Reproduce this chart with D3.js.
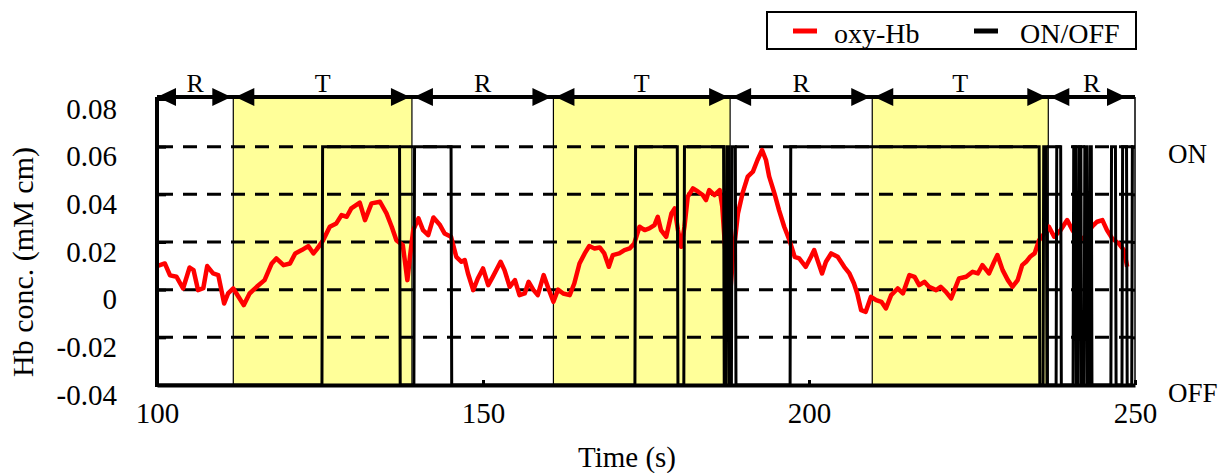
<!DOCTYPE html>
<html>
<head>
<meta charset="utf-8">
<script src="https://cdnjs.cloudflare.com/ajax/libs/d3/7.8.5/d3.min.js"></script>
<style>
    body { margin: 0; background: #fff; }
    text { font-family: "Liberation Serif", "Times New Roman", serif; fill: #000; }
</style>
</head>
<body>
<div class="chart"></div>
<script>
// oxy-Hb trace (time in s, conc. in mM cm)
var times = [100, 101.2, 102, 103, 104, 105, 105.6, 106.3, 107.1, 107.7, 108.6, 109.4, 110.3, 110.9, 111.7, 112.5, 113.3, 114.2, 115.3, 116.5,
    117.6, 118.3, 119.4, 120.4, 121.2, 122.2, 123.2, 124, 124.5, 125.5, 126.5, 127.5, 128.3, 129.1, 129.8, 131.1, 131.9, 132.9, 134.2, 135.2,
    136, 136.7, 137.7, 138.4, 138.8, 139.3, 140.1, 140.8, 141.6, 142.4, 143.4, 144.1, 145.1, 145.9, 146.7, 147.2, 147.7, 148.5, 149.2, 150,
    150.8, 151.5, 152.7, 153.3, 154.1, 154.9, 155.6, 156.4, 157, 157.7, 158.4, 159.3, 160.1, 160.8, 161.5, 162.3, 163.3, 164, 164.8, 165.6,
    166.3, 167.1, 167.9, 168.6, 169.3, 169.9, 170.9, 171.7, 172.5, 173.2, 174, 174.8, 175.5, 176.3, 176.8, 177.3, 178.1, 178.9, 179.4, 179.9,
    180.4, 180.9, 181.4, 182.2, 183, 183.7, 184.2, 184.7, 185.5, 186.3, 186.7, 187.3, 187.8, 188.3, 189.1, 189.8, 190.6, 191.4, 192.1, 192.8,
    193.4, 193.9, 194.7, 195.4, 196.2, 197, 197.8, 198.5, 199.5, 200.3, 200.8, 201.3, 202, 202.6, 203.4, 204.4, 205.4, 206.2, 206.9, 207.4,
    208, 208.7, 209.5, 210.3, 211.1, 211.8, 212.6, 213.6, 214.4, 215.4, 216.2, 216.9, 217.7, 218.4, 219.5, 220.2, 221, 221.8, 222.3, 223,
    224.1, 225.1, 225.9, 226.6, 227.6, 228.4, 228.9, 229.7, 230.5, 231.2, 232, 232.7, 233.3, 233.9, 234.6, 235.3, 236.1, 236.8, 237.6, 238.6,
    239.6, 240.4, 241.4, 242.4, 243.4, 244.2, 245, 245.7, 246.5, 247.5, 248.3, 248.8];
var oxyHb = [0.0099, 0.011, 0.006, 0.0054, 0.0005, 0.0093, 0.0082, -0.0002, 0.0006, 0.0099, 0.0068, 0.0061, -0.0058, -0.0016, 0.0005, -0.003, -0.0065, -0.0016, 0.0012, 0.004,
    0.011, 0.0131, 0.0103, 0.011, 0.0152, 0.0166, 0.0183, 0.0152, 0.0169, 0.0208, 0.0264, 0.0278, 0.0313, 0.0306, 0.0341, 0.0365, 0.0292, 0.0362, 0.0369, 0.032,
    0.0264, 0.0208, 0.0187, 0.004, 0.0138, 0.025, 0.0299, 0.025, 0.0229, 0.0303, 0.0271, 0.0236, 0.0222, 0.0138, 0.0117, 0.0124, 0.0068, -0.0002, 0.0047, 0.0089,
    0.0019, 0.0054, 0.0117, 0.0082, 0.0012, 0.004, -0.0023, -0.0016, 0.0033, 0, -0.0023, 0.0061, 0, -0.0051, 0, -0.0016, -0.0023, 0.0026, 0.011, 0.0152,
    0.0183, 0.0173, 0.0177, 0.0152, 0.0096, 0.0145, 0.0152, 0.0166, 0.0173, 0.0194, 0.0264, 0.025, 0.0257, 0.0271, 0.0306, 0.025, 0.0222, 0.032, 0.0341, 0.025,
    0.018, 0.0264, 0.039, 0.0425, 0.0411, 0.0397, 0.0376, 0.0418, 0.0397, 0.0418, 0.0348, 0.011, -0.0058, 0.0124, 0.032, 0.0404, 0.0474, 0.0495, 0.0544, 0.0586,
    0.0544, 0.0474, 0.0404, 0.0334, 0.0264, 0.0208, 0.0138, 0.0131, 0.0096, 0.0138, 0.0166, 0.0124, 0.0068, 0.0117, 0.0152, 0.0138, 0.0096, 0.0068, 0.0026, -0.0016,
    -0.0086, -0.0093, -0.003, -0.0044, -0.0051, -0.0079, -0.0023, 0.0005, -0.0016, 0.0061, 0.0054, 0.0019, 0.0033, 0.0012, -0.0002, 0.0012, -0.0009, -0.0037, -0.0002, 0.0047,
    0.0054, 0.0075, 0.0068, 0.0103, 0.0068, 0.0117, 0.0145, 0.0082, 0.004, 0.0012, 0.004, 0.0103, 0.0117, 0.0138, 0.0152, 0.0208, 0.0236, 0.0264, 0.0222, 0.025,
    0.0292, 0.025, 0.0208, 0.0222, 0.0264, 0.0285, 0.0292, 0.025, 0.0215, 0.0194, 0.0166, 0.0096];

// ON/OFF switching times (starts OFF, toggles at each time)
var switchTimes = [125.3, 137.2, 139.4, 145.1, 173.3, 179.8, 180.8, 186.9, 187.3, 187.7, 188.1, 188.7, 197.1,
    235.3, 235.9, 236.4, 237.9, 238.6, 240.5, 240.9, 241.3, 241.7, 242.2, 242.6, 243.0, 243.3, 246.3, 247.0, 248.0, 248.7, 249.5];

// rest / task phases
var phaseNames = ["R", "T", "R", "T", "R", "T", "R"];
var phaseEdges = [100, 111.7, 139.1, 160.8, 187.9, 209.7, 236.7, 250];

var yTicks = [0.08, 0.06, 0.04, 0.02, 0, -0.02, -0.04];
var yTickLabels = ["0.08", "0.06", "0.04", "0.02", "0", "-0.02", "-0.04"];
var gridValues = [0.06, 0.04, 0.02, 0, -0.02];
var xTicks = [100, 150, 200, 250];

var width = 1229, height = 473;
var arrowY = 97;
var serif = "'Liberation Serif', 'Times New Roman', serif";

var x = d3.scaleLinear().domain([100, 250]).range([157, 1135]);
var y = d3.scaleLinear().domain([-0.04, 0.08]).range([385, 99]);
var yState = d3.scaleLinear().domain([0, 1]).range([y(-0.04), y(0.06)]);

var svg = d3.select(".chart").append("svg")
    .attr("width", width)
    .attr("height", height)
    .attr("font-family", serif);

// task shading
var tasks = [];
phaseNames.forEach(function (p, i) {
    if (p == "T") tasks.push([phaseEdges[i], phaseEdges[i + 1]]);
});
svg.selectAll(".task")
    .data(tasks)
    .enter().append("rect")
    .attr("x", function (d) { return x(d[0]); })
    .attr("y", arrowY)
    .attr("width", function (d) { return x(d[1]) - x(d[0]); })
    .attr("height", y(-0.04) - arrowY)
    .style("fill", "#FFFF99")
    .style("stroke", "#000")
    .style("stroke-width", 1.2);

// dashed gridlines
svg.selectAll(".grid")
    .data(gridValues)
    .enter().append("line")
    .attr("x1", x(100) + 2)
    .attr("x2", x(250))
    .attr("y1", function (d) { return y(d); })
    .attr("y2", function (d) { return y(d); })
    .style("stroke", "#000")
    .style("stroke-width", 3)
    .style("stroke-dasharray", "14,10");

// oxy-Hb line
var hbData = times.map(function (t, i) { return [t, oxyHb[i]]; });
svg.append("path")
    .datum(hbData)
    .attr("d", d3.line()
        .x(function (d) { return x(d[0]); })
        .y(function (d) { return y(d[1]); }))
    .style("fill", "none")
    .style("stroke", "#FF0000")
    .style("stroke-width", 4.5)
    .style("stroke-linejoin", "round");

// ON/OFF line
var state = 0;
var swData = [[100, 0]];
switchTimes.forEach(function (t) {
    swData.push([t, state]);
    state = 1 - state;
    swData.push([t + 0.1, state]);
});
swData.push([250, state]);
svg.append("path")
    .datum(swData)
    .attr("d", d3.line()
        .x(function (d) { return x(d[0]); })
        .y(function (d) { return yState(d[1]); }))
    .style("fill", "none")
    .style("stroke", "#000")
    .style("stroke-width", 3);

// right axis
var rightAxis = svg.append("g")
    .attr("transform", "translate(" + x(250) + ",0)")
    .call(d3.axisRight(y).tickValues(gridValues).tickSize(-4).tickSizeOuter(0).tickFormat(""));
rightAxis.select(".domain").attr("d", "M0," + arrowY + "V" + y(-0.04)).style("stroke-width", 1.5);
rightAxis.selectAll(".tick line").style("stroke-width", 3);

// left axis
var leftAxis = svg.append("g")
    .attr("transform", "translate(" + x(100) + ",0)")
    .call(d3.axisLeft(y).tickValues(yTicks).tickSize(-9).tickSizeOuter(0).tickPadding(40)
        .tickFormat(function (d, i) { return yTickLabels[i]; }));
leftAxis.attr("font-family", serif);
leftAxis.select(".domain").attr("d", "M0," + arrowY + "V" + (y(-0.04) + 2)).style("stroke-width", 4);
leftAxis.selectAll(".tick line").style("stroke-width", 3);
leftAxis.selectAll("text")
    .attr("y", 10)
    .style("font-size", "29px");

// bottom axis
var bottomAxis = svg.append("g")
    .attr("transform", "translate(0," + y(-0.04) + ")")
    .call(d3.axisBottom(x).tickValues(xTicks).tickSize(-5).tickSizeOuter(0).tickPadding(17));
bottomAxis.attr("font-family", serif);
bottomAxis.select(".domain").style("stroke-width", 4);
bottomAxis.selectAll(".tick line").style("stroke-width", 3);
bottomAxis.selectAll("text")
    .style("font-size", "29px");

// phase arrows
svg.append("line")
    .attr("x1", x(100))
    .attr("x2", x(250))
    .attr("y1", arrowY)
    .attr("y2", arrowY)
    .style("stroke", "#000")
    .style("stroke-width", 4);

var last = phaseNames.length - 1;
phaseNames.forEach(function (p, i) {
    var a = x(phaseEdges[i]) + (i == 0 ? 0 : 2);
    var b = x(phaseEdges[i + 1]) - (i == last ? 9 : 2);
    svg.append("polygon")
        .attr("points", a + "," + arrowY + " " + (a + 19) + "," + (arrowY - 9) + " " + (a + 19) + "," + (arrowY + 9))
        .style("fill", "#000");
    svg.append("polygon")
        .attr("points", b + "," + arrowY + " " + (b - 19) + "," + (arrowY - 9) + " " + (b - 19) + "," + (arrowY + 9))
        .style("fill", "#000");
    svg.append("text")
        .attr("x", (x(phaseEdges[i]) + x(phaseEdges[i + 1])) / 2)
        .attr("y", 92)
        .attr("text-anchor", "middle")
        .style("font-size", "26px")
        .text(p);
});

// ON / OFF labels
svg.append("text").attr("x", 1168).attr("y", 163).style("font-size", "27px").text("ON");
svg.append("text").attr("x", 1168).attr("y", 402).style("font-size", "27px").text("OFF");

// axis titles
svg.append("text")
    .attr("transform", "translate(33,262) rotate(-90)")
    .attr("text-anchor", "middle")
    .style("font-size", "30px")
    .text("Hb conc. (mM cm)");
svg.append("text")
    .attr("x", 627)
    .attr("y", 467)
    .attr("text-anchor", "middle")
    .style("font-size", "29px")
    .text("Time (s)");

// legend
svg.append("rect")
    .attr("x", 767)
    .attr("y", 12)
    .attr("width", 369)
    .attr("height", 37)
    .style("fill", "#fff")
    .style("stroke", "#000")
    .style("stroke-width", 2);
svg.append("line")
    .attr("x1", 793).attr("x2", 817).attr("y1", 31).attr("y2", 31)
    .style("stroke", "#FF0000").style("stroke-width", 5);
svg.append("text").attr("x", 834).attr("y", 43).style("font-size", "28px").text("oxy-Hb");
svg.append("line")
    .attr("x1", 974).attr("x2", 998).attr("y1", 31).attr("y2", 31)
    .style("stroke", "#000").style("stroke-width", 5);
svg.append("text").attr("x", 1020).attr("y", 43).style("font-size", "28px").text("ON/OFF");
</script>
</body>
</html>
